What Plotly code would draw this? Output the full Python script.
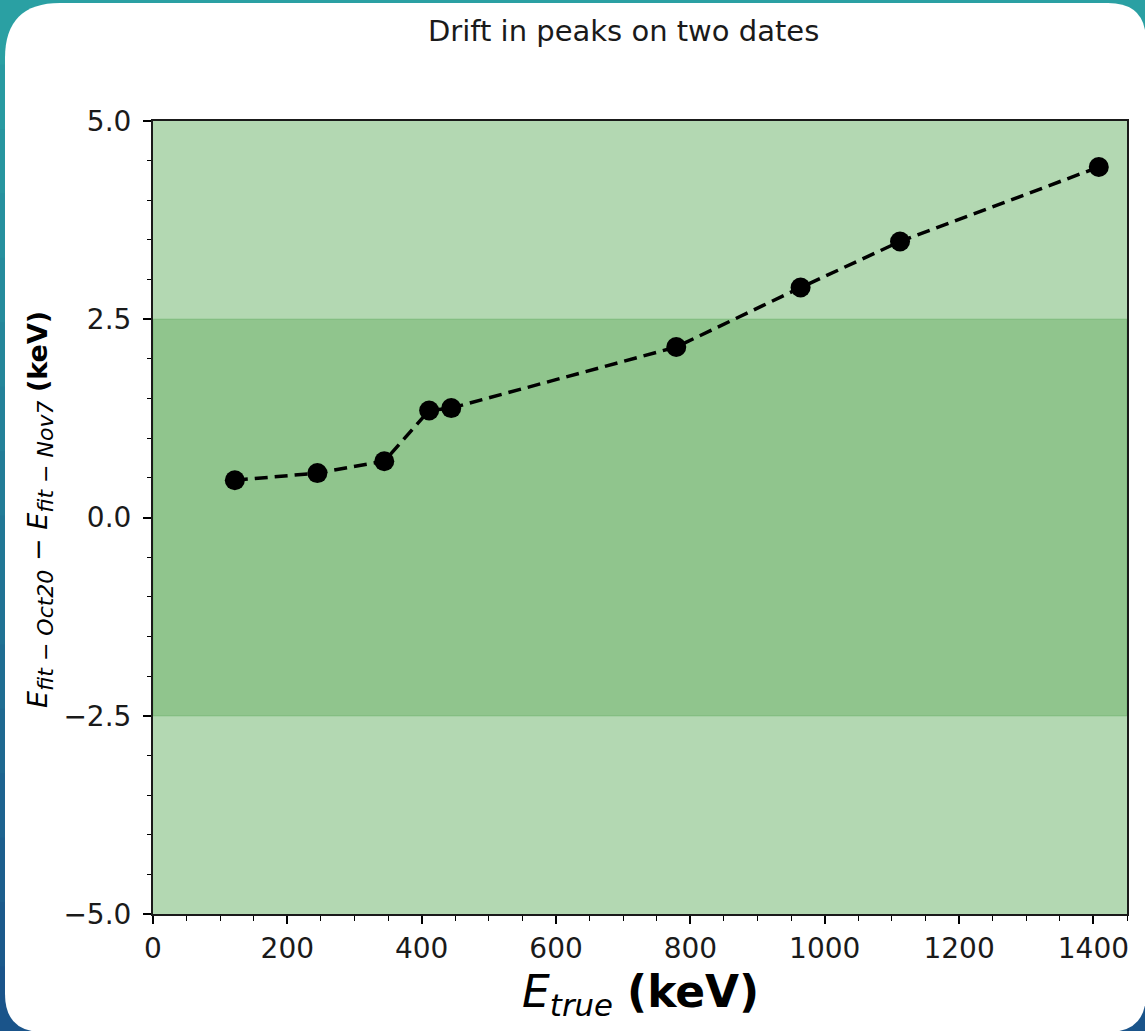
import plotly.graph_objects as go

# ---- data ----
energy_true = [121.8, 244.7, 344.3, 411.1, 444.0, 779.0, 964.1, 1112.1, 1408.0]
drift = [0.47, 0.56, 0.71, 1.35, 1.38, 2.15, 2.90, 3.48, 4.42]
y_tick_vals = [-5.0, -2.5, 0.0, 2.5, 5.0]
y_tick_text = ["−5.0", "−2.5", "0.0", "2.5", "5.0"]
x_tick_vals = [0, 200, 400, 600, 800, 1000, 1200, 1400]
outer_band = [-5.0, 5.0]
inner_band = [-2.5, 2.5]

FIG_W, FIG_H = 1145, 1031
L, R, T, B = 153, 1127, 121, 914
PW, PH = R - L, B - T

def px(x):
    return (x - L) / PW

def py(y):
    return (B - y) / PH

fig = go.Figure()

fig.add_trace(go.Scatter(
    x=energy_true, y=drift, mode="lines+markers",
    line=dict(color="black", width=3.5, dash="13px,7px"),
    marker=dict(color="black", size=20),
    showlegend=False,
))

shapes = []
# background gradient strips (teal -> blue)
top_c = (42, 160, 163)
bot_c = (26, 84, 138)
n = 16
for i in range(n):
    t = i / (n - 1)
    c = tuple(int(top_c[k] + (bot_c[k] - top_c[k]) * t) for k in range(3))
    y0 = FIG_H * i / n
    y1 = FIG_H * (i + 1) / n + 1
    shapes.append(dict(type="rect", xref="paper", yref="paper", layer="below",
                       x0=px(-5), x1=px(FIG_W + 5), y0=py(y0), y1=py(y1),
                       fillcolor="rgb(%d,%d,%d)" % c, line=dict(width=0)))

# white rounded panel
x0p, x1p, y0p, y1p = 5, 1146, 3, 1032
r1, r2 = 55, 38
path = (f"M {px(x0p + r1)},{py(y0p)} L {px(x1p - r2)},{py(y0p)} "
        f"Q {px(x1p)},{py(y0p)} {px(x1p)},{py(y0p + r2)} "
        f"L {px(x1p)},{py(y1p - r2)} Q {px(x1p)},{py(y1p)} {px(x1p - r2)},{py(y1p)} "
        f"L {px(x0p + r2)},{py(y1p)} Q {px(x0p)},{py(y1p)} {px(x0p)},{py(y1p - r2)} "
        f"L {px(x0p)},{py(y0p + r1)} Q {px(x0p)},{py(y0p)} {px(x0p + r1)},{py(y0p)} Z")
shapes.append(dict(type="path", xref="paper", yref="paper", layer="below",
                   path=path, fillcolor="white", line=dict(width=0)))

# bands
shapes.append(dict(type="rect", xref="paper", yref="y", layer="below",
                   x0=0, x1=1, y0=outer_band[0], y1=outer_band[1],
                   fillcolor="#b3d8b2", line=dict(width=0)))
shapes.append(dict(type="rect", xref="paper", yref="y", layer="below",
                   x0=0, x1=1, y0=inner_band[0], y1=inner_band[1],
                   fillcolor="#90c58d", line=dict(width=1.2, color="#7dbb7c")))

sub = '<sub><span style="font-size:22px"><i>%s</i></span></sub>'
annotations = [
    dict(text="Drift in peaks on two dates", xref="paper", yref="paper",
         x=px(623), y=py(31), xanchor="center", yanchor="middle", showarrow=False,
         font=dict(size=29, color="#1a1a1a")),
    dict(text="<i>E</i><sub><i>true</i></sub> <b>(keV)</b>", xref="paper", yref="paper",
         x=px(640), y=py(994), xanchor="center", yanchor="middle", showarrow=False,
         font=dict(size=44, color="black")),
    dict(text="<i>E</i>" + sub % "fit − Oct20" + " − <i>E</i>" + sub % "fit − Nov7" + " <b>(keV)</b>",
         xref="paper", yref="paper", textangle=-90,
         x=px(40), y=py(510), xanchor="center", yanchor="middle", showarrow=False,
         font=dict(size=27, color="black")),
]

fig.update_layout(
    width=FIG_W, height=FIG_H, autosize=False,
    margin=dict(l=L, r=FIG_W - R, t=T, b=FIG_H - B, pad=0),
    paper_bgcolor="rgb(42,160,163)", plot_bgcolor="white",
    font=dict(family="DejaVu Sans", color="black"),
    shapes=shapes, annotations=annotations,
    xaxis=dict(range=[0, 1450], tickvals=x_tick_vals, ticks="outside", ticklen=8,
               tickwidth=1.5, tickcolor="black", showline=True, linecolor="#1a1a1a",
               linewidth=2, mirror=True, showgrid=False, zeroline=False,
               tickfont=dict(size=28, color="#1a1a1a"),
               minor=dict(dtick=50, tick0=0, ticks="outside", ticklen=4.5,
                          tickcolor="black", tickwidth=1.2, showgrid=False)),
    yaxis=dict(range=[-5, 5], tickvals=y_tick_vals, ticktext=y_tick_text,
               ticks="outside", ticklen=8, tickwidth=1.5, tickcolor="black",
               showline=True, linecolor="#1a1a1a", linewidth=2, mirror=True,
               showgrid=False, zeroline=False, ticklabelstandoff=6,
               tickfont=dict(size=28, color="#1a1a1a"),
               minor=dict(dtick=0.5, tick0=0, ticks="outside", ticklen=4.5,
                          tickcolor="black", tickwidth=1.2, showgrid=False)),
)

fig.write_html("out.html")
